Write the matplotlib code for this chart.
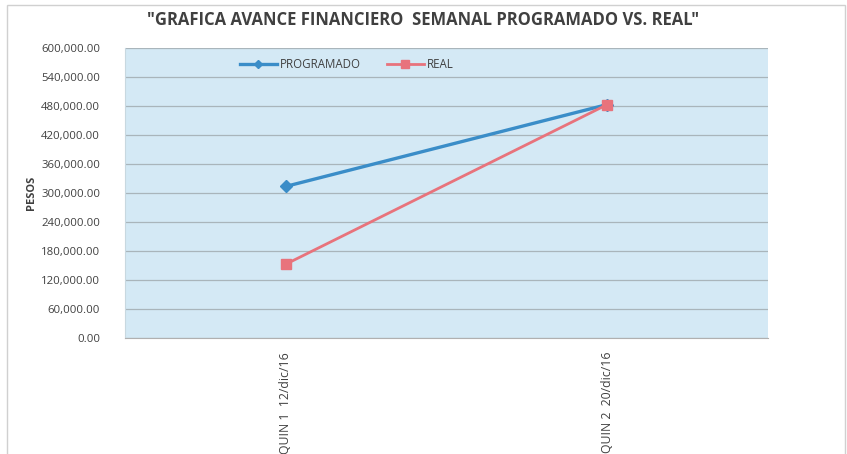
import numpy as np
import matplotlib
matplotlib.use("Agg")
import matplotlib.pyplot as plt
from matplotlib.ticker import FuncFormatter

# datos
periodos = ["QUIN 1  12/dic/16", "QUIN 2  20/dic/16"]
programado = [313600, 483000]
real = [152700, 483000]

plt.rcParams['font.family'] = ['Open Sans', 'DejaVu Sans']

fig = plt.figure(figsize=(8.47, 4.54), dpi=100)
ax = fig.add_axes([125/847, 1-338/454, (768-125)/847, (338-48)/454])

x = np.arange(len(periodos)) + 0.5
ax.plot(x, programado, color='#3a8dc8', lw=2.4, marker='D', ms=6, label='PROGRAMADO')
ax.plot(x, real, color='#e8737c', lw=2.0, marker='s', ms=7, label='REAL')

ax.set_xlim(0, len(periodos))
ax.set_ylim(0, 600000)
ax.set_yticks(np.arange(0, 600001, 60000))
ax.yaxis.set_major_formatter(FuncFormatter(lambda v, p: f"{v:,.2f}"))
ax.set_xticks(x)
ax.set_xticklabels(periodos, rotation=90, va='top')
ax.set_facecolor('#d4e9f5')
ax.grid(axis='y', color='#a9b5bb', lw=0.9)
ax.set_axisbelow(True)
for s in ['top', 'right']:
    ax.spines[s].set_visible(False)
ax.spines['left'].set_color('#c8d8e0')
ax.spines['bottom'].set_color('#b0b0b0')
ax.tick_params(axis='y', length=0, labelsize=8.2, colors='#404040', pad=18)
ax.tick_params(axis='x', length=0, labelsize=8.8, colors='#404040', pad=10)
ax.set_ylabel('PESOS', fontsize=8, fontweight='bold', color='#404040', labelpad=3)

ax.legend(loc='upper center', bbox_to_anchor=(0.345, 1.0), ncol=2, frameon=False,
          fontsize=8.3, labelcolor='#404040', handlelength=3.2, handletextpad=0.3,
          columnspacing=2.2, markerscale=0.75)

fig.text(0.5, 1-20/454, '"GRAFICA AVANCE FINANCIERO  SEMANAL PROGRAMADO VS. REAL"',
         ha='center', va='center', fontsize=12, fontweight='bold', color='#404040')

# marco exterior
fig.patches.append(plt.Rectangle((7/847, -0.1), 838/847, 1.09, transform=fig.transFigure,
                                 fill=False, edgecolor='#d0d0d0', lw=1))

fig.savefig('out.png', dpi=100)
